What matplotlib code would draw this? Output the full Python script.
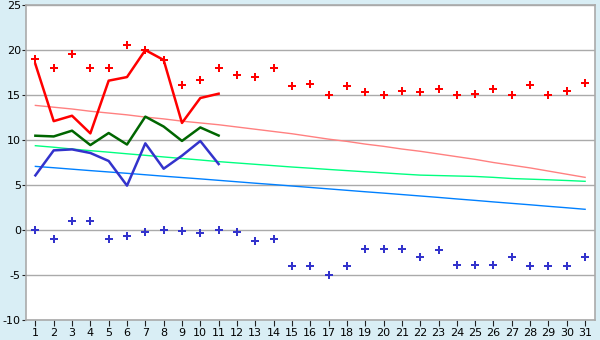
import matplotlib
matplotlib.use("Agg")
import matplotlib.pyplot as plt

days = list(range(1, 32))

# daily extremes (diamonds)
max_pts = [19, 18, 19.6, 18, 18, 20.6, 20, 18.9, 16.1, 16.7, 18, 17.2, 17, 18, 16,
           16.2, 15, 16, 15.3, 15, 15.5, 15.3, 15.7, 15, 15.1, 15.7, 15, 16.1, 15, 15.5, 16.3]
min_pts = [0, -1, 1, 1, -1, -0.67, -0.22, 0, -0.1, -0.33, 0, -0.2, -1.2, -1, -4,
           -4, -5, -4, -2.1, -2.1, -2.1, -3, -2.2, -3.9, -3.9, -3.9, -3, -4, -4, -4, -3]

# measured lines, days 1-11
obs_days = list(range(1, 12))
max_line = [18.44, 12.1, 12.7, 10.74, 16.6, 17.0, 20.0, 18.9, 11.9, 14.67, 15.15]
avg_line = [10.48, 10.4, 11.04, 9.44, 10.78, 9.5, 12.6, 11.5, 9.9, 11.4, 10.5]
min_line = [6.07, 8.85, 8.96, 8.56, 7.67, 4.93, 9.63, 6.81, 8.26, 9.89, 7.33]

# trend lines
trend_max = [13.85, 13.65, 13.45, 13.2, 13.0, 12.8, 12.55, 12.35, 12.1, 11.9, 11.7,
             11.45, 11.2, 10.95, 10.7, 10.4, 10.1, 9.85, 9.55, 9.3, 9.0, 8.75, 8.45,
             8.15, 7.85, 7.5, 7.2, 6.9, 6.55, 6.2, 5.85]
trend_avg = [9.37, 9.2, 9.0, 8.82, 8.65, 8.47, 8.3, 8.12, 7.95, 7.78, 7.6, 7.45, 7.3,
             7.15, 7.0, 6.87, 6.73, 6.6, 6.47, 6.35, 6.22, 6.1, 6.05, 6.0, 5.95, 5.85,
             5.72, 5.65, 5.58, 5.5, 5.41]
trend_min = [7.07, 6.92, 6.76, 6.6, 6.45, 6.3, 6.14, 5.98, 5.83, 5.68, 5.52, 5.36, 5.2,
             5.05, 4.89, 4.73, 4.57, 4.41, 4.25, 4.1, 3.94, 3.78, 3.62, 3.45, 3.29, 3.12,
             2.96, 2.8, 2.63, 2.47, 2.3]

plt.rcParams["axes.unicode_minus"] = False

bg = "#d9eef5"
fig = plt.figure(figsize=(6, 3.4), dpi=100, facecolor=bg)
ax = fig.add_axes([0.044, 0.059, 0.948, 0.926])
ax.set_facecolor("white")

ax.set_xlim(0.51, 31.55)
ax.set_ylim(-10, 25)
ax.set_yticks(range(-10, 26, 5))
ax.set_xticks(days)
ax.grid(axis="y", color="#aaaaaa", linewidth=1)
ax.set_axisbelow(True)
for s in ax.spines.values():
    s.set_color("#aaaaaa")
    s.set_linewidth(1.2)
ax.tick_params(labelsize=8, length=4, color="#222222", pad=2)
ax.tick_params(axis="y", length=3, pad=1)

ax.plot(days, trend_max, color="#ff8080", lw=1)
ax.plot(days, trend_avg, color="#00ff80", lw=1)
ax.plot(days, trend_min, color="#0080ff", lw=1)

ax.plot(obs_days, max_line, color="#ff0000", lw=1.8)
ax.plot(obs_days, avg_line, color="#006600", lw=1.8)
ax.plot(obs_days, min_line, color="#3333cc", lw=1.8)

ax.plot(days, max_pts, ls="none", marker="P", ms=5.5, color="#ff0000", mew=0)
ax.plot(days, min_pts, ls="none", marker="P", ms=5.5, color="#3333cc", mew=0)

fig.savefig("out.png", dpi=100, facecolor=bg)
